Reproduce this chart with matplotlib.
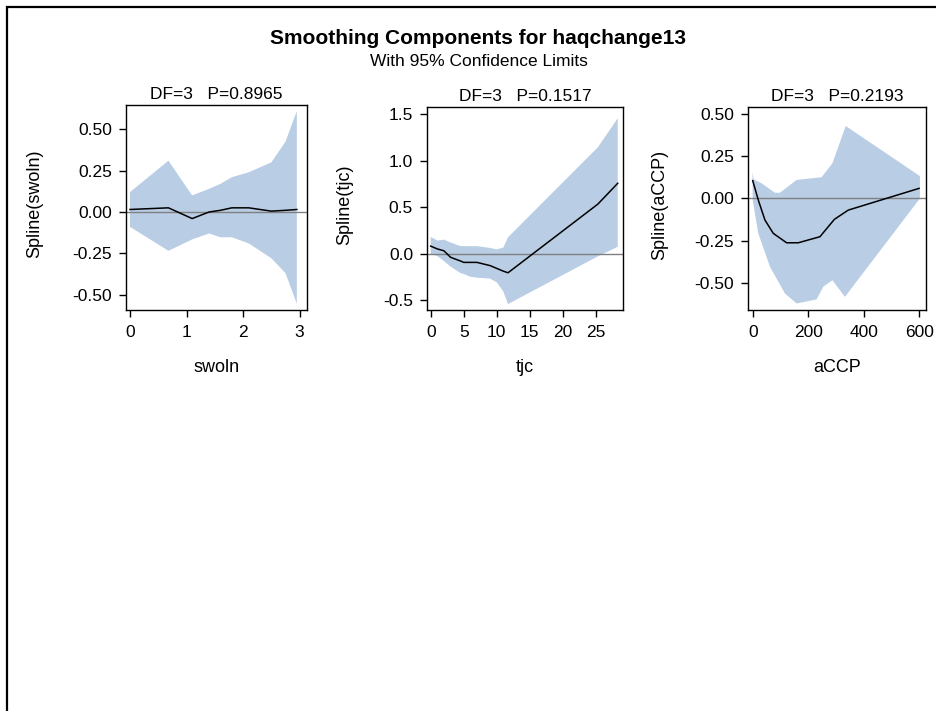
import numpy as np
import matplotlib
matplotlib.use('Agg')
from matplotlib import pyplot as plt
from matplotlib.patches import Rectangle

plt.rcParams['font.family'] = ['Liberation Sans', 'DejaVu Sans']

# swoln panel
sw_x = [0.0, 0.68, 1.1, 1.4, 1.6, 1.8, 2.1, 2.5, 2.75, 2.95]
sw_fit = [0.015, 0.025, -0.04, 0.0, 0.01, 0.025, 0.025, 0.005, 0.01, 0.015]
sw_up = [0.12, 0.31, 0.10, 0.14, 0.17, 0.21, 0.24, 0.30, 0.425, 0.61]
sw_lo = [-0.09, -0.235, -0.166, -0.13, -0.153, -0.153, -0.19, -0.28, -0.37, -0.555]

# tjc panel
tj_x = [0.0, 1.0, 2.0, 3.0, 4.5, 5.0, 6.0, 7.0, 9.0, 10.0, 11.0, 11.7, 25.3, 28.3]
tj_fit = [0.08, 0.05, 0.03, -0.04, -0.08, -0.095, -0.095, -0.095, -0.13, -0.16, -0.19, -0.207, 0.533, 0.757]
tj_up = [0.18, 0.14, 0.15, 0.12, 0.08, 0.08, 0.08, 0.08, 0.06, 0.045, 0.065, 0.175, 1.145, 1.457]
tj_lo = [-0.005, -0.027, -0.08, -0.14, -0.21, -0.22, -0.25, -0.26, -0.27, -0.31, -0.41, -0.544, -0.03, 0.073]

# aCCP panel
ac_fit_x = [0, 20, 44, 74, 122, 164, 242, 294, 344, 599]
ac_fit = [0.106, -0.009, -0.128, -0.207, -0.263, -0.263, -0.227, -0.124, -0.069, 0.06]
ac_up_x = [-1, 3, 32, 80, 98, 158, 248, 287, 335, 602]
ac_up = [0.159, 0.114, 0.09, 0.034, 0.034, 0.11, 0.126, 0.209, 0.43, 0.133]
ac_lo_x = [-1, 0, 20, 62, 116, 158, 230, 254, 287, 332, 602]
ac_lo = [0.159, -0.009, -0.207, -0.405, -0.564, -0.623, -0.599, -0.524, -0.485, -0.584, 0.0]

panels = [
    dict(fx=sw_x, fit=sw_fit, ux=sw_x, up=sw_up, lx=sw_x, lo=sw_lo, name='swoln', p='0.8965',
         xlim=(-0.07, 3.13), ylim=(-0.593, 0.647), xt=[0, 1, 2, 3],
         yt=[-0.5, -0.25, 0, 0.25, 0.5], fmt='%.2f', box=(126, 105, 307, 310), ylx=35),
    dict(fx=tj_x, fit=tj_fit, ux=tj_x, up=tj_up, lx=tj_x, lo=tj_lo, name='tjc', p='0.1517',
         xlim=(-0.56, 29.1), ylim=(-0.608, 1.579), xt=[0, 5, 10, 15, 20, 25],
         yt=[-0.5, 0, 0.5, 1.0, 1.5], fmt='%.1f', box=(427, 107, 623, 310), ylx=345),
    dict(fx=ac_fit_x, fit=ac_fit, ux=ac_up_x, up=ac_up, lx=ac_lo_x, lo=ac_lo, name='aCCP', p='0.2193',
         xlim=(-17, 624), ylim=(-0.662, 0.543), xt=[0, 200, 400, 600],
         yt=[-0.5, -0.25, 0, 0.25, 0.5], fmt='%.2f', box=(748, 107, 926, 310), ylx=660),
]

W, H = 936, 711
fig = plt.figure(figsize=(W / 100, H / 100), dpi=100)

# outer frame (top and left edges show)
fig.patches.append(Rectangle((7.5 / W, -0.1), 1.2, 1 - 6.5 / H + 0.1,
                             transform=fig.transFigure, fill=False,
                             edgecolor='black', linewidth=1.6))

fig.text(478 / W, 1 - 38 / H, 'Smoothing Components for haqchange13',
         ha='center', va='center', fontsize=15, fontweight='bold')
fig.text(479 / W, 1 - 61 / H, 'With 95% Confidence Limits',
         ha='center', va='center', fontsize=12.5)

for p in panels:
    x0, y0, x1, y1 = p['box']
    ax = fig.add_axes([x0 / W, 1 - y1 / H, (x1 - x0) / W, (y1 - y0) / H])
    band_x = list(p['ux']) + list(p['lx'])[::-1]
    band_y = list(p['up']) + list(p['lo'])[::-1]
    ax.fill(band_x, band_y, color='#b9cde5', linewidth=0)
    ax.axhline(0, color='#808080', linewidth=1)
    ax.plot(p['fx'], p['fit'], color='black', linewidth=1.1)
    ax.set_xlim(p['xlim'])
    ax.set_ylim(p['ylim'])
    ax.set_xticks(p['xt'])
    ax.set_yticks(p['yt'])
    ax.set_yticklabels([p['fmt'] % v for v in p['yt']])
    ax.tick_params(labelsize=12.5, length=5, width=1)
    ax.tick_params(axis='x', pad=6)
    ax.tick_params(axis='y', pad=5)
    ax.set_xlabel(p['name'], fontsize=13)
    ax.xaxis.set_label_coords(0.5, -(367 - y1) / (y1 - y0))
    ax.xaxis.label.set_va('center')
    ax.set_ylabel('Spline(' + p['name'] + ')', fontsize=13)
    ax.yaxis.set_label_coords((p['ylx'] - x0) / (x1 - x0), 0.52)
    ax.yaxis.label.set_va('center')
    ax.set_title('DF=3   P=' + p['p'], fontsize=12.5, pad=4)
    for s in ax.spines.values():
        s.set_linewidth(1)

fig.savefig('out.png', dpi=100)
